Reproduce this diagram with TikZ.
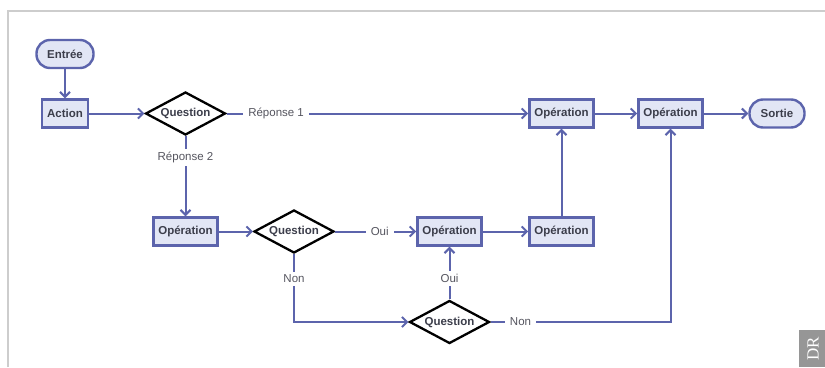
\documentclass[tikz,border=0pt]{standalone}
\usepackage{fontspec}
\setmainfont{Liberation Sans}
\newfontfamily\serifdr{Liberation Serif}
\usetikzlibrary{shapes.geometric,arrows.meta}
\definecolor{lineblue}{RGB}{92,100,172}
\definecolor{boxfill}{RGB}{226,230,245}
\definecolor{txt}{RGB}{60,62,75}
\definecolor{lbl}{RGB}{85,85,95}
\definecolor{framegray}{RGB}{205,205,205}
\definecolor{drgray}{RGB}{150,150,150}
\begin{document}
\begin{tikzpicture}[x=1pt,y=-1pt,
 font=\fontsize{11.5}{13}\selectfont,
 opbox/.style={draw=lineblue, line width=2.4pt, fill=boxfill, text=txt,
   font=\fontsize{11.5}{13}\selectfont\bfseries, inner xsep=5pt, minimum height=28pt},
 pill/.style={opbox, rounded corners=13.5pt},
 quest/.style={diamond, draw=black, line width=2.3pt, fill=white, text=txt,
   font=\fontsize{11.5}{13}\selectfont\bfseries, minimum width=80pt, minimum height=43pt,
   inner sep=0pt, aspect=1.86},
 conn/.style={draw=lineblue, line width=2pt},
 arr/.style={conn, -{Straight Barb[length=5pt,width=10pt]}},
 lab/.style={fill=white, text=lbl, inner xsep=5pt, inner ysep=3pt}
]
\useasboundingbox (0,0) rectangle (825,367);
\draw[framegray, line width=1.8pt] (8,367) -- (8,11) -- (825,11);
\fill[drgray] (799,330) rectangle (825,367);
\node[rotate=90, text=white, font=\serifdr\fontsize{17}{17}\selectfont] (dr) at (813,349) {DR};

\node[pill, minimum width=57pt] (entree) at (65,54) {Entrée};
\node[opbox] (action) at (65,113.5) {Action};
\node[quest] (q1) at (185.5,113.5) {Question};
\node[opbox] (op1) at (561.5,113.5) {Opération};
\node[opbox] (op2) at (670.5,113.5) {Opération};
\node[pill, minimum width=55pt] (sortie) at (777,113.5) {Sortie};
\node[opbox] (op3) at (185.5,231.5) {Opération};
\node[quest] (q2) at (294,231.5) {Question};
\node[opbox] (op4) at (449.5,231.5) {Opération};
\node[opbox] (op5) at (561.5,231.5) {Opération};
\node[quest] (q3) at (449.5,322) {Question};

\draw[arr] (entree) -- (action);
\draw[arr] (action) -- (q1);
\draw[arr] (q1.east) -- node[lab, pos=0.164] {Réponse 1} (op1.west);
\draw[arr] (op1) -- (op2);
\draw[arr] (op2) -- (sortie);
\draw[arr] (q1.south) -- node[lab, pos=0.27] {Réponse 2} (op3.north);
\draw[arr] (op3) -- (q2);
\draw[arr] (q2.east) -- node[lab, pos=0.55] {Oui} (op4.west);
\draw[arr] (op4) -- (op5);
\draw[arr] (op5) -- (op1);
\draw[arr] (q2.south) |- node[lab, pos=0.18] {Non} (q3.west);
\draw[arr] (q3.north) -- node[lab, pos=0.4] {Oui} (op4.south);
\draw[arr] (q3.east) -| node[lab, pos=0.083] {Non} (op2.south);
\end{tikzpicture}
\end{document}
